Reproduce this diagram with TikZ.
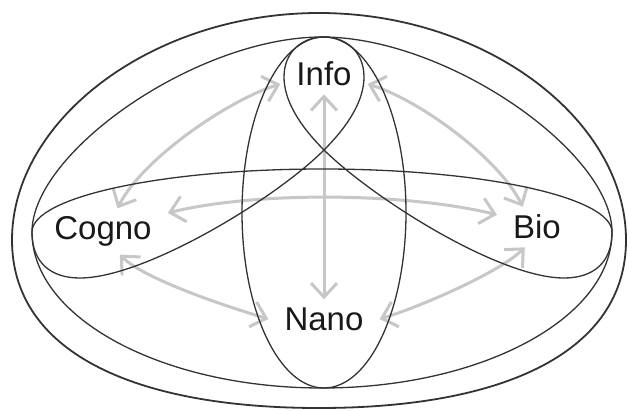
\documentclass[tikz,border=0pt]{standalone}
\usepackage{fontspec}
\setmainfont{Liberation Sans}
\usetikzlibrary{arrows.meta}

\begin{document}
\begin{tikzpicture}[
        x=1pt, y=-1pt,
        field/.style={font=\fontsize{33}{36}\selectfont, text=black!90, inner xsep=16pt, inner ysep=8pt},
        arrow/.style={<->, >={Straight Barb[length=14pt, width=26pt]}, line width=3pt, draw=black!22},
        outline/.style={draw=black!80, line width=1.3pt}
    ]
        \useasboundingbox (0,0) rectangle (629,410);

        \node[field] (info) at (324,74) {Info};
        \node[field] (cogno) at (103,231.5) {Cogno};
        \node[field] (bio) at (537,227) {Bio};
        \node[field] (nano) at (324,319) {Nano};

        \draw[arrow] (info.south) -- (nano.north);
        \draw[arrow] (cogno.16) .. controls +(90,-22) and +(-90,-22) .. (bio.163);
        \draw[arrow] (cogno.58) .. controls +(25,-50) and +(-50,15) .. (info.193);
        \draw[arrow] (info.-13) .. controls +(50,15) and +(-25,-50) .. (bio.125);
        \draw[arrow] (cogno.-54) .. controls +(25,25) and +(-40,-12) .. (nano.west);
        \draw[arrow] (nano.east) .. controls +(40,-12) and +(-25,25) .. (bio.239);

        % outer and inner egg
        \draw[outline, line width=1.8pt] (12,240) .. controls (12,120) and (152,13) .. (319,13)
            .. controls (486,13) and (626,120) .. (626,240)
            .. controls (626,350) and (508,408) .. (319,408)
            .. controls (130,408) and (12,350) .. cycle;
        \draw[outline] (32,232) .. controls (32,152) and (197,37) .. (322,37)
            .. controls (447,37) and (612,152) .. (612,232)
            .. controls (612,318) and (482,388) .. (322,388)
            .. controls (162,388) and (32,318) .. cycle;

        \draw[outline] (324,212.5) ellipse [x radius=82, y radius=175.5];

        % three lobes
        \draw[outline] (32,232) .. controls (32,197) and (162,169) .. (322,169)
            .. controls (482,169) and (612,197) .. (612,232)
            .. controls (612,262) and (594,278) .. (564,278)
            .. controls (500,278) and (375,200) .. (324,150)
            .. controls (299,125) and (284,100) .. (284,77)
            .. controls (284,52) and (302,37) .. (324,37)
            .. controls (346,37) and (364,52) .. (364,77)
            .. controls (364,100) and (349,125) .. (324,150)
            .. controls (274,200) and (144,278) .. (80,278)
            .. controls (50,278) and (32,262) .. cycle;
\end{tikzpicture}
\end{document}
